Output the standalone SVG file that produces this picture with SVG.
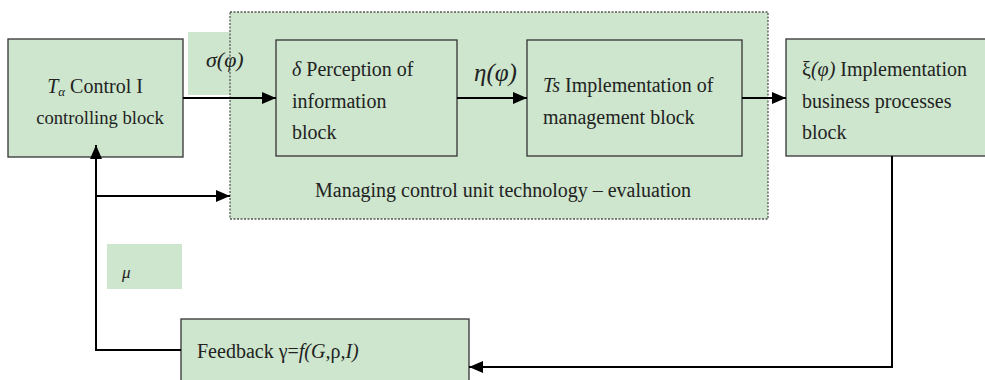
<svg xmlns="http://www.w3.org/2000/svg" width="985" height="380" viewBox="0 0 985 380" font-family="Liberation Serif, Times New Roman, serif">
<defs>
<style>
.box{fill:#cde6cd;stroke:#333;stroke-width:1.3}
.lbl{fill:#cde6cd;stroke:none}
.cont{fill:#cde6cd;stroke:#555;stroke-width:1.3;stroke-dasharray:2,1.5}
text{font-family:'Liberation Serif','Times New Roman',serif;fill:#222}
.t{font-size:20px}
.i{font-style:italic}
.ln{fill:none;stroke:#000;stroke-width:2}
</style>
<marker id="ah" viewBox="0 0 14 12" refX="14" refY="6" markerWidth="14" markerHeight="12" markerUnits="userSpaceOnUse" orient="auto">
<path d="M0,0 L14,6 L0,12 Z" fill="#000"/>
</marker>
</defs>
<g id="sigma-label"><rect class="lbl" x="188" y="32" width="50" height="63"/></g>
<g id="container">
<rect class="cont" x="230" y="12" width="538" height="207"/>
<text class="t" x="315" y="197">Managing control unit technology – evaluation</text>
</g>
<g id="sigma-text"><text class="i" x="206" y="67" style="font-size:22px">σ(φ)</text></g>
<g id="mu-label"><rect class="lbl" x="107" y="244" width="75" height="45"/><text class="i" x="122" y="278" style="font-size:17px">μ</text></g>
<g id="control-block">
<rect class="box" x="8" y="39" width="175" height="118"/>
<text class="t" x="95" y="93" text-anchor="middle"><tspan class="i">T<tspan style="font-size:13px" dy="3">α</tspan></tspan><tspan dy="-3"> Control I</tspan></text>
<text x="100" y="124" text-anchor="middle" style="font-size:18.6px">controlling block</text>
</g>
<g id="perception-block">
<rect class="box" x="276" y="40" width="181" height="116"/>
<text class="t" x="292" y="76"><tspan class="i">δ</tspan> Perception of</text>
<text class="t" x="292" y="108">information</text>
<text class="t" x="292" y="139">block</text>
</g>
<g id="eta-label"><text class="i" x="474" y="81" style="font-size:25px">η(φ)</text></g>
<g id="implementation-block">
<rect class="box" x="527" y="40" width="215" height="116"/>
<text class="t" x="543" y="92"><tspan class="i">Ts</tspan> Implementation of</text>
<text class="t" x="543" y="124">management block</text>
</g>
<g id="business-block">
<rect class="box" x="786" y="39" width="210" height="117"/>
<text class="t" x="802" y="76">ξ<tspan class="i">(φ)</tspan> Implementation</text>
<text class="t" x="802" y="108">business processes</text>
<text class="t" x="802" y="139">block</text>
</g>
<g id="feedback-block">
<rect class="box" x="181" y="319" width="288" height="70"/>
<text class="t" x="197" y="358">Feedback γ=<tspan class="i">f(G,</tspan>ρ<tspan class="i">,I)</tspan></text>
</g>
<g id="connectors">
<path class="ln" d="M183,98 H276" marker-end="url(#ah)"/>
<path class="ln" d="M457,98 H527" marker-end="url(#ah)"/>
<path class="ln" d="M742,98 H786" marker-end="url(#ah)"/>
<path class="ln" d="M892,156 V367 H469" marker-end="url(#ah)"/>
<path class="ln" d="M181,350 H96 V145" marker-end="url(#ah)"/>
<path class="ln" d="M96,196 H230" marker-end="url(#ah)"/>
</g>
</svg>
